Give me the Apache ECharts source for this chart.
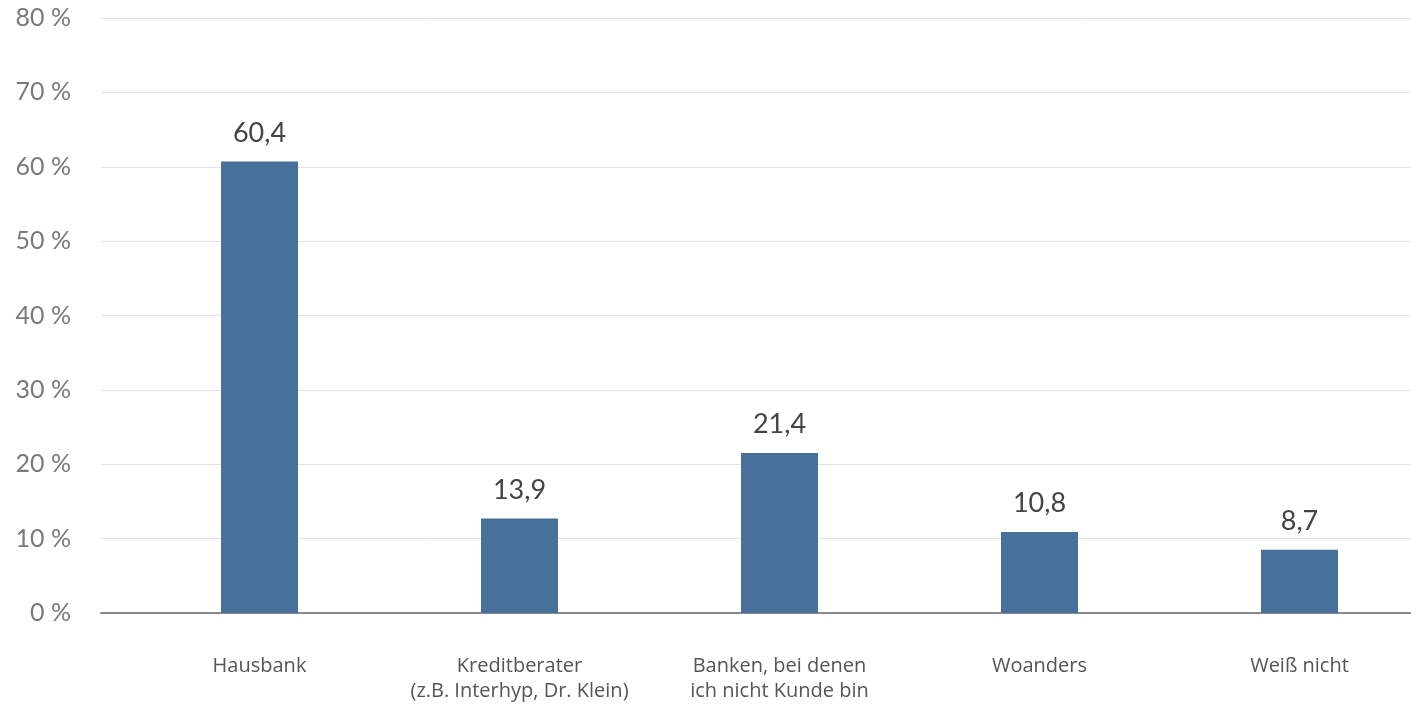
<!DOCTYPE html>
<html>
<head>
<meta charset="utf-8">
<script src="https://cdn.jsdelivr.net/npm/echarts@6/dist/echarts.min.js"></script>
<style>html,body{margin:0;padding:0;background:#fff}#c{width:1411px;height:706px}</style>
</head>
<body>
<div id="c"></div>
<script>
const categories = ['Hausbank', 'Kreditberater\n(z.B. Interhyp, Dr. Klein)', 'Banken, bei denen\nich nicht Kunde bin', 'Woanders', 'Weiß nicht'];
const barValues = [60.7, 12.7, 21.5, 10.9, 8.5];
const valueLabels = ['60,4', '13,9', '21,4', '10,8', '8,7'];
const yMin = 0, yMax = 80, yStep = 10;

const chart = echarts.init(document.getElementById('c'));
chart.setOption({
  animation: false,
  grid: [
    {left: 101, width: 1310, top: 18, height: 595, outerBoundsMode: 'none', containLabel: false},
    {left: 129.5, width: 1300, top: 18, height: 595, outerBoundsMode: 'none', containLabel: false}
  ],
  xAxis: [
    {type: 'value', gridIndex: 0, min: 0, max: 1,
      axisLine: {show: true, onZero: false, lineStyle: {color: '#888', width: 2}},
      axisTick: {show: false}, axisLabel: {show: false}, splitLine: {show: false}},
    {type: 'category', gridIndex: 1, data: categories,
      axisLine: {show: false}, axisTick: {show: false},
      axisLabel: {margin: 41, fontFamily: 'Open Sans', fontSize: 20, lineHeight: 25, color: '#555', interval: 0}}
  ],
  yAxis: [
    {type: 'value', gridIndex: 0, min: yMin, max: yMax, interval: yStep,
      axisLine: {show: false}, axisTick: {show: false},
      axisLabel: {margin: 30, fontFamily: 'Lato', fontSize: 25, color: '#7a7a7a',
        formatter: v => v + ' %'},
      splitLine: {lineStyle: {color: '#e2e2e2', width: 1}}},
    {type: 'value', gridIndex: 1, min: yMin, max: yMax, interval: yStep, show: false,
      splitLine: {show: false}}
  ],
  series: [{
    type: 'bar', xAxisIndex: 1, yAxisIndex: 1,
    data: barValues, barWidth: 77,
    itemStyle: {color: '#47709a'},
    label: {show: true, position: 'top', distance: 15,
      fontFamily: 'Lato', fontSize: 27, color: '#444',
      formatter: p => valueLabels[p.dataIndex]}
  }]
});
</script>
</body>
</html>
